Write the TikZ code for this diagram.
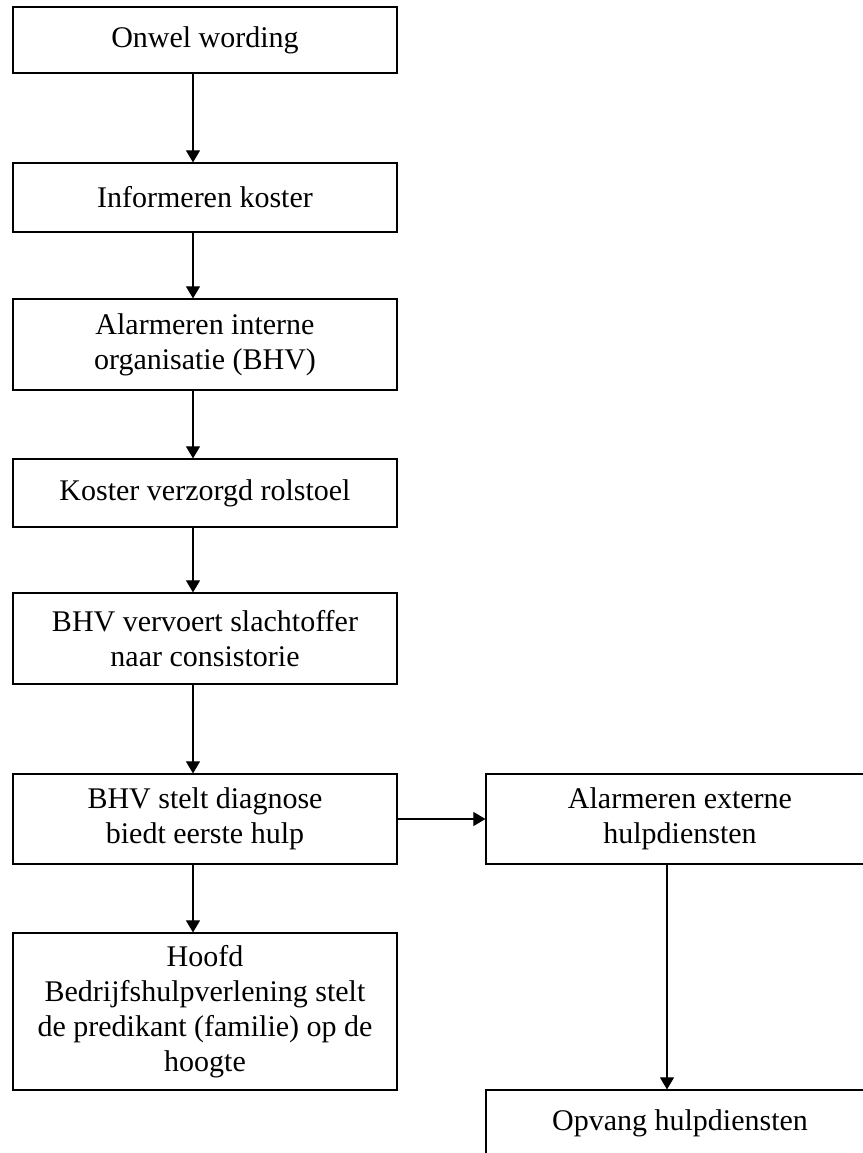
\documentclass[tikz,border=0pt]{standalone}
\usepackage{fontspec}
\setmainfont{Liberation Serif}
\usetikzlibrary{arrows.meta}

\begin{document}
\begin{tikzpicture}[x=0.5pt,y=-0.5pt,
  box/.style={draw,line width=0.6pt,inner sep=0pt,align=center,
    minimum width=192pt,font=\fontsize{15}{17.5}\selectfont},
  arr/.style={line width=0.55pt,-{Triangle[length=6pt,width=7pt]}}]

\useasboundingbox (0,0) rectangle (863,1153);

% left column
\node[box,minimum height=33pt]   (onwel)   at (205,40)     {Onwel wording};
\node[box,minimum height=34.5pt] (koster)  at (205,197.5)  {Informeren koster};
\node[box,minimum height=45.5pt] (intern)  at (205,344.5)  {Alarmeren interne\\organisatie (BHV)};
\node[box,minimum height=34pt]   (rolstoel) at (205,493)   {Koster verzorgd rolstoel};
\node[box,minimum height=45.5pt] (vervoer) at (205,638.5)  {BHV vervoert slachtoffer\\naar consistorie};
\node[box,minimum height=45pt]   (diagnose) at (205,819)   {BHV stelt diagnose\\biedt eerste hulp};
\node[box,minimum height=78.5pt] (hoofd)   at (205,1011.5) {Hoofd\\Bedrijfshulpverlening stelt\\de predikant (familie) op de\\hoogte};

% right column
\node[box,minimum width=194pt,minimum height=45pt] (extern) at (680,819)  {Alarmeren externe\\hulpdiensten};
\node[box,minimum width=194pt,minimum height=33pt] (opvang) at (680,1123) {Opvang hulpdiensten};

\coordinate (spine)  at (193,0);
\coordinate (spineR) at (667,0);

\draw[arr] (onwel.south -| spine)    -- (koster.north -| spine);
\draw[arr] (koster.south -| spine)   -- (intern.north -| spine);
\draw[arr] (intern.south -| spine)   -- (rolstoel.north -| spine);
\draw[arr] (rolstoel.south -| spine) -- (vervoer.north -| spine);
\draw[arr] (vervoer.south -| spine)  -- (diagnose.north -| spine);
\draw[arr] (diagnose.south -| spine) -- (hoofd.north -| spine);

\draw[arr] (diagnose.east) -- (extern.west);
\draw[arr] (extern.south -| spineR) -- (opvang.north -| spineR);

\end{tikzpicture}
\end{document}
